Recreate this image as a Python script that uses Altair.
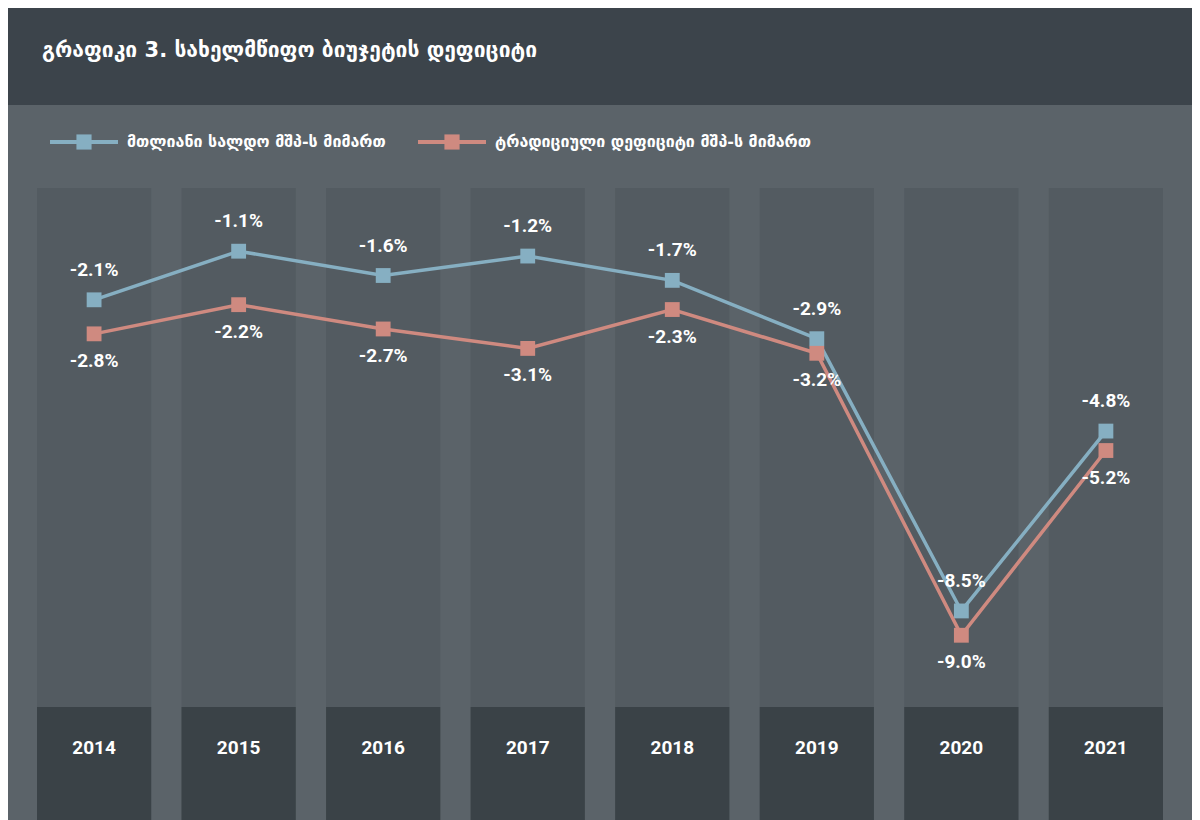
import altair as alt
import pandas as pd

years = ["2014", "2015", "2016", "2017", "2018", "2019", "2020", "2021"]
total = [-2.1, -1.1, -1.6, -1.2, -1.7, -2.9, -8.5, -4.8]
traditional = [-2.8, -2.2, -2.7, -3.1, -2.3, -3.2, -9.0, -5.2]
title_text = "გრაფიკი 3. სახელმწიფო ბიუჯეტის დეფიციტი"
legend_total = "მთლიანი სალდო მშპ-ს მიმართ"
legend_trad = "ტრადიციული დეფიციტი მშპ-ს მიმართ"

blue = "#86afc2"
red = "#cf8a80"
W, H = 1126, 632

df = pd.DataFrame({"year": years, "total": total, "trad": traditional})
df["total_lbl"] = [f"{v:.1f}%" for v in total]
df["trad_lbl"] = [f"{v:.1f}%" for v in traditional]

xs = alt.X("year:O", scale=alt.Scale(paddingInner=0.21, paddingOuter=0), axis=None)
ys = alt.Scale(domain=[-12.8, 0.2], nice=False, zero=False)
base = alt.Chart(df)

cols = base.mark_bar(color="#535b61").encode(x=xs, y=alt.value(0), y2=alt.value(H))
boxes = base.mark_bar(color="#3a4247").encode(x=xs, y=alt.value(519), y2=alt.value(H))
year_txt = base.mark_text(color="white", font="Roboto", fontWeight="bold", fontSize=19).encode(
    x=xs, y=alt.value(560), text="year:N")

def series(col, lbl, color, dy):
    y = alt.Y(f"{col}:Q", scale=ys, axis=None)
    line = base.mark_line(color=color, strokeWidth=3.5).encode(x=xs, y=y)
    pts = base.mark_square(color=color, size=220, opacity=1).encode(x=xs, y=y)
    txt = base.mark_text(color="white", font="Roboto", fontWeight="bold", fontSize=19, dy=dy).encode(
        x=xs, y=y, text=f"{lbl}:N")
    return line + pts + txt

head = alt.Chart(pd.DataFrame({"t": [title_text]}))
title_band = head.mark_rect(color="#3c444b").encode(
    x=alt.value(-37), x2=alt.value(W + 37), y=alt.value(-188), y2=alt.value(-83))
title = head.mark_text(align="left", color="white", font="DejaVu Sans", fontWeight="bold", fontSize=21).encode(
    x=alt.value(5), y=alt.value(-137), text="t:N")

def legend_item(x0, color, label):
    d = alt.Chart(pd.DataFrame({"t": [label]}))
    ln = d.mark_rule(color=color, strokeWidth=4).encode(x=alt.value(x0), x2=alt.value(x0 + 68), y=alt.value(-46))
    sq = d.mark_square(color=color, size=230, opacity=1).encode(x=alt.value(x0 + 34), y=alt.value(-46))
    tx = d.mark_text(align="left", color="white", font="DejaVu Sans", fontWeight="bold", fontSize=16).encode(
        x=alt.value(x0 + 77), y=alt.value(-46), text="t:N")
    return ln + sq + tx

chart = alt.layer(
    title_band, title, legend_item(13, blue, legend_total), legend_item(381, red, legend_trad),
    cols, boxes, year_txt,
    series("total", "total_lbl", blue, -30), series("trad", "trad_lbl", red, 27),
).properties(
    width=W, height=H, autosize="none",
    padding={"left": 29, "top": 180, "right": 29, "bottom": 0},
    background="#5b6369",
).configure_view(stroke=None)

chart.save("out.html", embed_options={"renderer": "svg", "actions": False})
